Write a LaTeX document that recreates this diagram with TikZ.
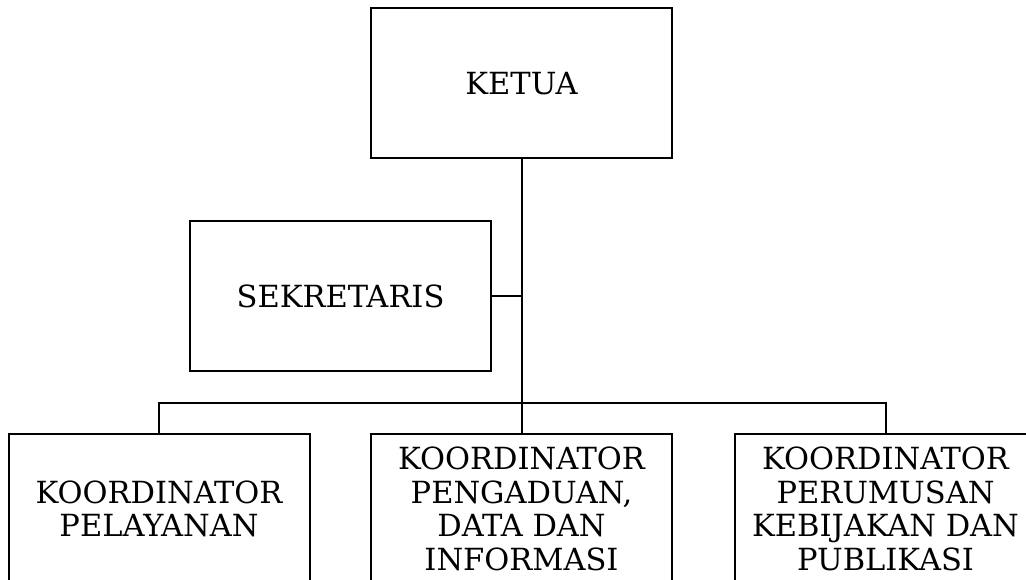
\documentclass[tikz,border=0pt]{standalone}
\usepackage{fontspec}
\setmainfont{DejaVu Serif}
\begin{document}
\begin{tikzpicture}[x=1pt,y=-1pt,
  orgbox/.style={draw, line width=2pt, minimum width=301pt, minimum height=150pt,
    align=center, inner sep=0pt, font=\fontsize{30.5}{33.7}\selectfont},
  link/.style={line width=2pt}]
\useasboundingbox (0,0) rectangle (1026,580);
\clip (0,0) rectangle (1026,580);
\node[orgbox] (ketua) at (521.5,83.5) {KETUA};
\node[orgbox] (sek) at (340.5,296) {SEKRETARIS};
\node[orgbox] (k1) at (159,509) {KOORDINATOR\\PELAYANAN};
\node[orgbox] (k2) at (521.5,509) {KOORDINATOR\\PENGADUAN,\\DATA DAN\\INFORMASI};
\node[orgbox] (k3) at (885.5,509) {KOORDINATOR\\PERUMUSAN\\KEBIJAKAN DAN\\PUBLIKASI};
\coordinate (bus) at (521.5,402.7);
\draw[link] (ketua.south) -- (k2.north);
\draw[link] (sek.east) -- (sek.east -| ketua.south);
\draw[link] (k1.north) |- (bus) -| (k3.north);
\end{tikzpicture}
\end{document}
